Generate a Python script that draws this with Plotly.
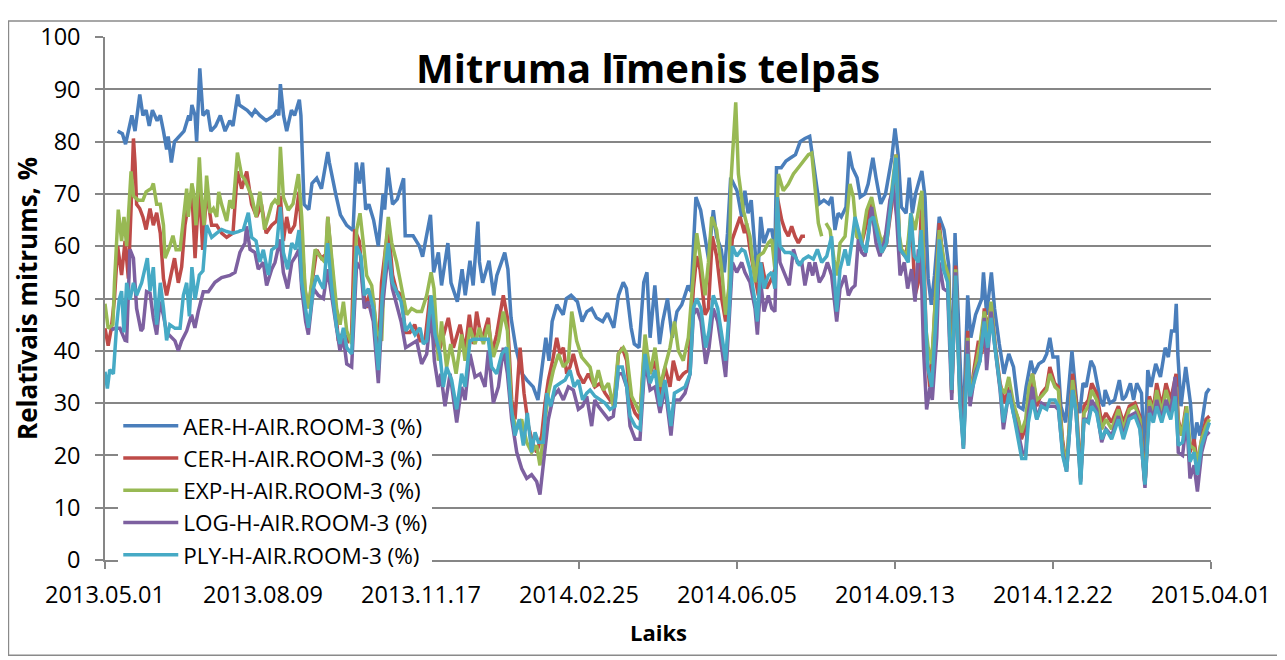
import pandas as pd
import plotly.graph_objects as go

START = "2013-05-01"
END = "2015-04-01"

tick_days = [0, 100, 200, 300, 400, 500, 600, 700]
tick_labels = ["2013.05.01", "2013.08.09", "2013.11.17", "2014.02.25",
               "2014.06.05", "2014.09.13", "2014.12.22", "2015.04.01"]

series_names = ["AER-H-AIR.ROOM-3 (%)", "CER-H-AIR.ROOM-3 (%)", "EXP-H-AIR.ROOM-3 (%)",
                "LOG-H-AIR.ROOM-3 (%)", "PLY-H-AIR.ROOM-3 (%)"]

# days since 2013-05-01
aer_day = [8, 11, 13, 15, 17, 19, 22, 24, 26, 28,
           30, 33, 35, 37, 39, 40, 42, 44, 47, 50,
           53, 54, 55, 57, 58, 60, 62, 65, 67, 70,
           73, 76, 79, 81, 84, 85, 90, 93, 95, 98,
           102, 107, 109, 110, 111, 113, 115, 118, 120, 123,
           124, 126, 129, 131, 134, 137, 141, 142, 146, 149,
           153, 157, 159, 161, 163, 165, 167, 170, 173, 176,
           177, 179, 182, 185, 189, 190, 195, 199, 201, 206,
           208, 211, 213, 217, 219, 223, 226, 228, 231, 233,
           236, 237, 239, 243, 246, 248, 251, 253, 255, 257,
           260, 264, 267, 271, 274, 276, 279, 281, 283, 286,
           290, 292, 295, 299, 302, 305, 308, 311, 315, 318,
           322, 325, 328, 330, 333, 335, 338, 341, 343, 345,
           348, 351, 353, 356, 359, 362, 365, 367, 369, 371,
           374, 377, 380, 382, 385, 387, 390, 392, 394, 396,
           400, 403, 405, 407, 409, 411, 413, 415, 417, 420,
           422, 424, 425, 428, 431, 434, 437, 440, 443, 446,
           448, 450, 452, 455, 458, 460, 462, 464, 466, 469,
           471, 473, 476, 478, 481, 483, 486, 488, 491, 494,
           498, 500, 502, 504, 507, 509, 511, 513, 517, 519,
           521, 523, 525, 528, 531, 534, 536, 538, 541, 543,
           546, 548, 551, 555, 556, 558, 561, 563, 566, 569,
           572, 575, 578, 581, 583, 586, 588, 591, 594, 596,
           598, 600, 603, 605, 608, 612, 615, 617, 619, 621,
           624, 626, 630, 632, 633, 636, 639, 642, 644, 646,
           649, 651, 653, 656, 658, 660, 662, 665, 668, 671,
           673, 675, 677, 678, 679, 681, 684, 687, 689, 691,
           693, 695, 697, 699]
aer_val = [82, 81.5, 79.5, 82, 85, 82, 89, 85, 86, 83,
           86, 84, 85, 82, 78.5, 81, 76, 80, 81, 82,
           85, 84, 87, 85, 80, 94, 85, 86, 82, 83,
           85, 82, 84, 83, 89, 87, 86, 85, 86, 85,
           84, 85, 86, 85, 91, 85, 82, 86, 85, 88,
           85, 68, 67, 72, 73, 71, 78, 76, 70, 66,
           64, 63, 76, 72, 76, 67, 68, 65, 60, 70,
           67, 75, 68, 69, 73, 62, 62, 60, 58, 66,
           55, 58.8, 52.5, 60.6, 53, 49.4, 55.6, 50.6, 57.2, 52.5,
           64.7, 57, 53, 57.2, 50.6, 54.4, 57, 58.8, 55.6, 46.3,
           40.6, 35.6, 34.4, 33.1, 30.6, 35.6, 42.5, 38.1, 45.6, 48.8,
           46.9, 50, 50.6, 49.4, 45.6, 47.5, 48.1, 46.3, 45.6, 47.2,
           44.4, 50.6, 53.1, 51.9, 44.4, 41.3, 40.6, 53.1, 55, 42.5,
           52.5, 41.3, 45.6, 50, 42.5, 47.5, 48.8, 50.6, 52.5, 51.3,
           69.4, 66.9, 60.6, 57.5, 66.9, 61.9, 59.4, 55, 62.5, 73.1,
           70.6, 65.6, 70.6, 66.3, 68.8, 60.6, 53.1, 65.6, 60.6, 63.1,
           63.1, 59.4, 75, 75, 76.3, 76.9, 77.5, 80, 80.6, 81,
           76.9, 71.9, 68.1, 68.8, 68.1, 69.4, 63.1, 66.3, 65.6, 67.5,
           78.1, 75, 73.1, 69.4, 70, 71.9, 76.9, 73.1, 68.1, 70,
           76.9, 82.5, 77.5, 67.5, 66.3, 73.1, 66.3, 70, 74.4, 69.4,
           53.8, 48.8, 54.4, 65.6, 63.1, 56.3, 33.1, 62.5, 38.1, 24,
           50.6, 42.5, 46.9, 50, 55, 46.9, 55, 48.1, 41.3, 35.6,
           39.4, 36.9, 29.4, 28.8, 33.1, 38.1, 35.6, 37.5, 38.1, 39.4,
           42.5, 38.8, 38.8, 29.4, 26.3, 40, 30, 28.1, 33.8, 33.1,
           38.1, 36.9, 30.6, 29.4, 32.5, 30, 30.6, 34.4, 30.6, 31.3,
           33.8, 30.6, 33.8, 31.9, 19.4, 36.3, 33.1, 37.5, 35, 40.6,
           38.8, 43.8, 43.8, 49, 39.4, 29.4, 36.9, 30, 21.9, 26.3,
           23.8, 27.5, 31.9, 32.8]

cer_day = [0, 2, 4, 6, 8, 10.5, 12.7, 14.8, 16.5, 18,
           19, 20, 22, 24, 26, 28.5, 30.6, 32.7, 35, 37,
           39, 42, 44, 46.4, 48.5, 50.6, 52.7, 55, 57, 59.7,
           61.8, 64.3, 67.5, 70.7, 73.8, 77, 81, 83.8, 86.5, 89.7,
           92.8, 96, 99, 102, 105.5, 108.6, 111, 112.9, 115, 117,
           120, 122.8, 124.5, 126.6, 128.7, 132, 134, 137, 140, 141,
           144.5, 147.7, 150.8, 154, 156, 158, 161, 163.5, 165.6, 167.7,
           169.8, 173, 175, 179.3, 182, 184.6, 187.8, 190, 193, 196,
           199.4, 202.5, 205.7, 209, 211, 214, 217.3, 220.5, 224.7, 227.9,
           230.6, 233.1, 235.2, 238.4, 242.6, 244.7, 247.9, 250, 252.1, 254.7,
           257.4, 259.5, 262.7, 265.2, 268, 271.1, 273.2, 276.4, 278.5, 280.6,
           283.3, 285.9, 288, 290.1, 292.2, 294.3, 296.4, 299.6, 302.8, 305.9,
           310, 313.3, 316.5, 319.6, 322.8, 325, 327.4, 330.2, 332.3, 335.5,
           338.6, 341.8, 345, 348, 351.3, 354.4, 357.6, 359.7, 362.9, 366,
           369.2, 372.4, 374.5, 376.6, 379.8, 381.9, 384.4, 387.1, 390.3, 392.8,
           395, 397, 399.8, 402, 404.7, 406, 408.2, 411.4, 413.5, 415.6,
           418.8, 422, 424, 425.5, 428.3, 430.4, 432.5, 434.6, 436.7, 438.8,
           441, 443, 444, 475.8, 479, 482, 485, 488.4, 491.6, 494.7,
           498, 500.6, 502, 503, 506.3, 508.4, 510.5, 512.7, 514.8, 517,
           518.6, 520, 522, 524.3, 526.4, 528, 530.6, 533.8, 535.9, 538.4,
           541, 543.3, 546, 547.5, 549.6, 552.8, 555, 556.5, 558.7, 560.8,
           563.3, 566.5, 569.6, 572, 575, 578, 580, 582.3, 584.4, 587,
           589.7, 592.8, 596, 598, 601, 603.4, 606, 608.6, 612.4, 614.6,
           617.5, 619.6, 622.4, 624.5, 627.6, 630.8, 633.5, 637.1, 641.4, 644.5,
           648.3, 651.9, 655, 658.2, 661, 663.5, 665.6, 668.8, 671.5, 674.5,
           677.9, 679.3, 681.4, 684.2, 686.7, 689.3, 691.4, 694.1, 696.8, 699]
cer_val = [44.3, 41, 44.3, 50, 60, 54.5, 61, 53.8, 67.2, 80.6,
           75.9, 68, 67.2, 65.6, 63.2, 67.2, 64, 66.4, 62.5, 53.8,
           50.6, 54.5, 57.7, 53, 56, 64, 68, 70.4, 57.7, 72,
           59.3, 70.4, 64, 64, 62.5, 61.7, 62.5, 74.3, 71, 74.3,
           68, 65.6, 68, 62.5, 64, 64.8, 69.6, 61, 65.6, 62.5,
           64, 70.4, 61, 51.4, 48.2, 54.5, 59.3, 57.7, 58.5, 65.6,
           53.8, 41.9, 43.5, 41.9, 42.7, 63.2, 60.9, 51.4, 48.2, 51.4,
           49.8, 39.5, 53, 64, 54.5, 51.4, 50.6, 43.5, 43.5, 45,
           41.9, 41.9, 50.6, 42.5, 39.4, 42.5, 46.3, 40.6, 45, 40,
           46.9, 41.3, 47.5, 41.9, 46.3, 39.4, 43.1, 46.9, 50.6, 46.3,
           30.6, 26.9, 40.6, 31.9, 25.6, 21.9, 20.6, 23.8, 30, 34.4,
           38.1, 42.5, 39.4, 40.6, 35.6, 36.9, 39.4, 35.6, 33.8, 35.6,
           33.1, 33.8, 31.9, 30.6, 31.3, 39.4, 40.6, 38.1, 30.6, 28.1,
           26.9, 41.9, 35.6, 38.1, 31.3, 36.9, 33.1, 38.1, 34.4, 35.6,
           36.3, 51.9, 58.1, 55.6, 46.9, 48.1, 61.9, 58.1, 50, 45.6,
           51.9, 61.3, 63.8, 65.6, 62.5, 64.4, 59.4, 54.4, 50.6, 56.9,
           51.9, 53.8, 55.6, 69.4, 65, 63.1, 61.9, 63.8, 61.9, 60.6,
           61.9, 61.9, None, 61.9, 60.6, 64.4, 68.8, 63.1, 58.8, 60.6,
           68.1, 77.5, 66.3, 59.4, 58.1, 60.6, 64.4, 50.6, 53.1, 69.4,
           55, 39.4, 33.1, 42.5, 55, 64.4, 56.9, 54.4, 31.9, 56.3,
           33.1, 21.9, 43.8, 30.6, 35.6, 41.9, 39.4, 48.1, 43.8, 48.8,
           41.3, 33.8, 30, 33.1, 29.4, 26.9, 23.1, 25, 30, 35.6,
           29.4, 31.9, 33.1, 36.9, 33.8, 33.1, 23.1, 17.5, 35.6, 30.6,
           15.6, 29.4, 30.6, 33.8, 31.9, 26.3, 28.1, 26.3, 29.4, 26.3,
           29.4, 30, 27.5, 14.4, 31.3, 28.8, 33.8, 29.4, 33.8, 30.6,
           35.6, 26.9, 23.8, 29.4, 20.6, 23.1, 18.1, 23.1, 26.9, 27.5]

exp_day = [0, 2, 5, 6, 8.4, 10.5, 12, 13.7, 16.5, 18,
           21, 24, 26, 29.5, 30.6, 32.7, 35, 37, 38, 41,
           43, 45, 47.5, 49.6, 51.7, 52.7, 55, 56, 57.6, 59.7,
           61, 62.7, 64.3, 66.5, 68.6, 70.7, 72, 73.8, 77, 79,
           81, 83.8, 86.5, 88.6, 90.7, 92.8, 95.6, 98, 101, 103.4,
           105.5, 107.6, 109.7, 111, 112.9, 116, 119, 122.4, 124.5, 126.6,
           128.7, 130.8, 133, 136, 139.3, 141, 143.5, 146.6, 148.8, 150.9,
           153, 156.1, 159.3, 161.4, 163.5, 165.6, 168.8, 172, 175.1, 177.2,
           179.3, 181.5, 184.6, 187.8, 191, 194, 197.3, 200.4, 203.6, 206.4,
           208.2, 211, 213, 216.2, 218.8, 222.2, 225.7, 227.9, 231, 234.2,
           237, 239.5, 242.6, 245.8, 249, 252.1, 254.7, 257.4, 260.6, 263.7,
           266.9, 270, 273.2, 275.3, 278.5, 280.6, 283.8, 287, 290.1, 293.3,
           295.4, 298.5, 301.7, 304.9, 307, 309.7, 312.2, 315.4, 318.6, 321.7,
           324.9, 328.1, 330.2, 333.3, 336.5, 338.6, 341.8, 345, 348.1, 351.3,
           354.4, 357.6, 360.4, 362.9, 366, 369.2, 371.7, 374.5, 377.2, 379.8,
           381.9, 384, 387.1, 390.3, 392.8, 395, 396.2, 397.7, 399.2, 400.9,
           403, 404, 406, 408.2, 411.4, 413.5, 416.7, 419.8, 422, 424,
           426.2, 429.3, 432.5, 435.7, 438.8, 442, 445.2, 447.3, 449.4, 451.5,
           453.6, 455, 456.3, 458.9, 461.4, 463.1, 465.2, 468.4, 471.5, 473.6,
           475.8, 478.9, 482.1, 485.2, 488.4, 491.6, 494.7, 497.9, 500.6, 502.8,
           504.2, 507.4, 510, 512.7, 515.2, 517, 519, 521, 523.2, 525.3,
           528, 531.2, 533.8, 535.9, 538.4, 541.1, 543.3, 546, 547.5, 550.6,
           553.8, 556.5, 559, 560.8, 563.3, 566.5, 569.6, 572, 574.9, 578,
           580, 582.7, 584.8, 587, 589.7, 592.8, 596, 598, 601.3, 603.4,
           606.1, 608.6, 612.4, 614.6, 617.5, 619.6, 622.4, 624.5, 627.6, 630.8,
           633.5, 637.1, 641.4, 644.5, 648.3, 651.9, 655, 658.2, 661, 663.5,
           665.6, 668.8, 671.5, 674.5, 677.9, 679.3, 681.4, 684.6, 686.7, 689.3,
           691.4, 694.1, 696.8, 699]
exp_val = [49, 44.3, 45, 53, 67, 61, 65.6, 60, 74.3, 69.6,
           68.8, 68.8, 70.4, 71.1, 72, 68, 68, 64, 57.7, 60,
           62, 59.3, 59.3, 64.8, 71, 65.6, 72, 70.4, 64, 77,
           69.6, 64, 73.5, 66.4, 67.2, 65.6, 70.4, 68, 64.8, 68.8,
           67.2, 77.9, 73.5, 72.7, 71, 69.6, 65.6, 70.4, 63.2, 65.6,
           68, 68.8, 68, 79, 69.4, 66.9, 68.1, 73.8, 65.6, 51.9,
           48.1, 53.1, 59.4, 58.1, 56.9, 65.6, 58.1, 48.1, 45, 49.4,
           43.8, 41.3, 63.1, 66.3, 60.6, 54.4, 52.5, 43.8, 41.9, 58.1,
           65.6, 60.6, 56.9, 51.9, 46.9, 48.1, 47.5, 47.5, 50.6, 55,
           51.9, 38.1, 45.6, 36.9, 41.3, 35.6, 43.1, 38.1, 44.4, 41.3,
           44.4, 41.3, 45, 38.8, 41.9, 47.5, 43.8, 28.1, 25, 26.9,
           22.5, 20.6, 21.9, 18.1, 26.3, 31.9, 36.3, 39.4, 36.9, 38.1,
           47.5, 41.9, 38.8, 37.5, 36.9, 33.1, 36.3, 32.5, 33.8, 29.4,
           39.4, 40.6, 39.4, 31.3, 29.4, 28.1, 43.1, 35.6, 40.6, 33.1,
           36.9, 40.6, 45.6, 40, 38.1, 42.5, 51.9, 62.5, 56.9, 50.6,
           56.9, 65.6, 63.1, 55.6, 46.9, 52.5, 72.5, 79.4, 87.5, 73.8,
           69.4, 66.9, 64.4, 61.9, 53.1, 58.1, 58.8, 60.6, 61.3, 55.6,
           73.8, 70.6, 71.9, 73.8, 75, 76.3, 77.5, 77.8, 71.3, 64.4,
           61.9, None, 64.4, 63.1, 57.5, 54.4, 60.6, 61.9, 71.9, 69.4,
           61.9, 60.6, 66.9, 69.4, 64.4, 60.6, 62.5, 71.3, 77.5, 61.9,
           59.4, 58.1, 66.3, 63.1, 67.5, 70.6, 45.6, 40.6, 37.5, 48.8,
           63.1, 56.9, 54.4, 31.9, 55.6, 30, 23.8, 42.5, 31.9, 36.3,
           41.3, 47.5, 43.1, 49.4, 41.3, 33.1, 31.9, 35, 30, 26.9,
           24.4, 26.9, 33.1, 35.6, 30.6, 31.3, 32.5, 35.6, 33.1, 32.5,
           21.9, 18.1, 34.4, 29.4, 15.6, 28.1, 29.4, 32.5, 30.6, 25,
           26.9, 25, 28.8, 25, 28.8, 29.4, 26.9, 14.4, 30.6, 28.1,
           32.5, 28.1, 32.5, 29.4, 33.1, 26.3, 23.8, 29.4, 21.9, 21.3,
           18.8, 23.1, 25.6, 26.9]

log_day = [4, 6.3, 9.5, 12.7, 13.7, 15.8, 18, 20, 22.8, 24,
           26.3, 28.5, 30.6, 32.7, 34.8, 36.9, 39, 42, 44.3, 46.4,
           48.5, 51.7, 54.8, 56.9, 59, 62.2, 65.4, 69.6, 73.8, 79,
           82.3, 85.4, 88.6, 89.6, 91.8, 94.9, 97, 100.2, 102.3, 105.5,
           107.6, 110.8, 112.9, 115.6, 118.2, 120.7, 122.8, 124.5, 127, 128.7,
           131.9, 135, 138.2, 140.9, 143.5, 146.6, 148.7, 150.9, 153, 156.1,
           159.3, 162, 164.1, 166.7, 169.8, 173, 175.5, 179.3, 181.9, 184.6,
           187.4, 190.3, 194.1, 197.3, 200.4, 203.6, 206.4, 208.5, 211, 212.5,
           215.2, 218.4, 222.6, 225.7, 227.9, 231, 234.2, 237.4, 240.5, 242.6,
           245.8, 249, 252.1, 254.7, 257.4, 260.6, 263.7, 266.9, 270, 273.2,
           275.3, 278.5, 280.6, 283.8, 287, 290.1, 293.3, 296.4, 299.6, 302.3,
           304.9, 308, 310, 312.2, 315.4, 318.6, 321.7, 324.9, 327.4, 330.2,
           332.3, 335.5, 338.6, 341.8, 345, 348.1, 351.3, 354.4, 358.2, 360.4,
           363.9, 367.1, 370.3, 372.4, 374.5, 377.2, 380.2, 382.3, 385, 387.8,
           390.3, 392.8, 395, 397.1, 399.8, 403, 405, 408.2, 411.4, 412.9,
           415, 417.1, 419.8, 422, 424, 425.5, 427.2, 430.4, 433.1, 435.7,
           438.2, 441, 443, 445.8, 447.9, 449.4, 452.1, 454.7, 457.2, 459.9,
           463.1, 465.2, 468.4, 470.5, 472.6, 474.7, 476.8, 478.9, 481, 483.1,
           485.2, 488, 490.5, 493.7, 496.8, 499, 501, 503.2, 505.9, 508,
           510.5, 512.7, 514.8, 516.5, 518, 520, 522.2, 523.6, 526.4, 528,
           530.6, 533.3, 535.9, 538.4, 541.1, 543.3, 546, 547.5, 550.6, 553.8,
           556.5, 558, 560.8, 563.3, 566.5, 568.6, 572.2, 574.9, 578, 580.6,
           582.7, 584.4, 587, 589.7, 592.8, 596, 598, 601.3, 603.4, 606.1,
           608.6, 612.4, 614.6, 617.5, 619.6, 622.4, 624.5, 627.6, 630.8, 633.5,
           637.1, 641.4, 644.5, 648.3, 651.9, 655, 658.2, 661, 663.5, 665.6,
           668.8, 671.5, 674.5, 677.3, 678.3, 679.3, 682, 684.6, 686.7, 689.3,
           691.4, 694.1, 696.8, 699]
log_val = [44, 44.3, 44.3, 42, 41.9, 59.4, 57.7, 48.1, 43.8, 44.3,
           51.3, 51, 46.3, 43.1, 49.4, 46.9, 43.5, 42.7, 41.9, 40,
           41.9, 43.8, 46.9, 44.4, 47.5, 51.3, 51.3, 53.1, 54, 54.4,
           55, 58.8, 60.6, 63.8, 59.4, 58.8, 55.6, 56.9, 52.5, 55.6,
           56.9, 61.3, 55, 51.9, 56.9, 58.1, 59.4, 51.9, 45.6, 43.1,
           51.9, 50.6, 50, 55.6, 50, 43.8, 40, 42.5, 37.5, 36.9,
           56.9, 55.6, 48.1, 49.4, 45.6, 33.8, 48.1, 58.8, 51.9, 48.8,
           45.6, 40.6, 41.3, 41.9, 37.5, 39.4, 47.5, 38, 33.1, 35.6,
           29.4, 35.6, 26.3, 33.1, 30.6, 39.4, 35, 35.6, 33.1, 40,
           30, 33.1, 40.6, 35.6, 26.9, 20.6, 17.5, 15.6, 16.3, 15,
           12.5, 20.6, 26.9, 31.3, 32.5, 30.6, 33.1, 32.5, 28.8, 29.4,
           31.3, 25.6, 30.6, 29.4, 28.1, 26.9, 27.5, 35.6, 35.6, 33.1,
           25.6, 23.1, 23.1, 38.1, 32.5, 33.1, 28.1, 33.1, 23.8, 30.6,
           30.6, 31.9, 35.6, 46.9, 48.1, 45.6, 37.5, 40.6, 48.1, 45.6,
           40.6, 35, 45.6, 56.9, 55, 56.9, 55, 53.1, 48.1, 43.1,
           53.1, 47.5, 50.6, 48.1, 47.5, 64.4, 56.9, 54.4, 52.5, 59.4,
           56.9, 56.9, 52.5, 56.9, 54.4, 56.9, 53.1, 54.4, 56.9, 54.4,
           45.6, 51.9, 54.4, 50.6, 51.9, 52.5, 61.3, 58.8, 58.1, 61.9,
           67.5, 60.6, 58.1, 61.3, 68.8, 71.3, 65.6, 54.4, 56.9, 51.9,
           55.6, 49.4, 59.4, 56.9, 40.6, 28.8, 33.1, 30.6, 42.5, 56.9,
           51.9, 51.3, 30.6, 55, 31.9, 21.3, 41.9, 29.4, 35.6, 38.1,
           46.3, 36.3, 47.5, 40.6, 32.5, 25, 32.5, 28.1, 24.4, 20.6,
           20.6, 28.1, 33.1, 26.9, 30, 29.4, 29.4, 29.4, 28.8, 20.6,
           16.9, 32.5, 28.1, 15, 26.9, 26.9, 30.6, 28.8, 22.5, 25,
           23.8, 27.5, 23.8, 27.5, 28.1, 25.6, 13.8, 29.4, 26.9, 30.6,
           26.9, 30.6, 28.1, 35, 28.8, 20.6, 20, 26.9, 15.6, 18.1,
           13.1, 20.6, 23.8, 24.5]

ply_day = [0, 1.5, 3, 5.3, 7.4, 9, 10.5, 12, 13.7, 15.8,
           18, 20, 23.2, 25.3, 26.8, 28.5, 30.6, 32.7, 35, 37,
           39, 41, 44.3, 47.5, 49.6, 51.7, 53.4, 55, 57, 59.7,
           62, 64.3, 67.5, 70.7, 73.8, 77, 81, 84.4, 87.6, 90.7,
           92.8, 95.6, 98, 100.2, 103.4, 105.5, 108.6, 111, 112.9, 115.6,
           118.2, 120.7, 122.8, 124.5, 127, 128.7, 131.9, 134, 136, 138.2,
           140.9, 143.5, 146.6, 148.7, 150.9, 153, 156.1, 159.3, 162, 164.1,
           166.7, 169.8, 173, 175.5, 179.3, 181.9, 184.6, 187.4, 190.3, 193,
           196.2, 199.4, 201.5, 203.6, 206.4, 208.9, 212, 214.1, 216.2, 219.4,
           222.6, 225.7, 227.9, 231, 233.1, 237.4, 242.6, 244.7, 247.9, 251.1,
           254.2, 256.8, 259.5, 262.2, 264.8, 267.3, 270, 272.2, 274.3, 277.4,
           279.6, 282, 284.8, 288, 291.2, 294.3, 296.9, 299.6, 302.3, 304.9,
           307, 310.1, 313.3, 316.5, 319.6, 322.8, 324.9, 327.4, 330.2, 332.3,
           335.5, 338.6, 341.8, 345, 348.1, 351.3, 354.4, 358.2, 360.4, 363.9,
           367.1, 370.3, 372.4, 374.5, 377.2, 380.2, 382.3, 385, 387.8, 390.3,
           392.8, 395, 397.1, 399.8, 403, 405, 408.2, 411.4, 412.9, 415,
           417.1, 419.8, 422, 424, 425.5, 427.2, 430.4, 433.6, 436.7, 439.5,
           442, 445.2, 448.3, 450.9, 453.6, 456.8, 459.9, 463.1, 465.2, 468.4,
           470.5, 472.6, 474.7, 476.8, 478.9, 481.7, 484.2, 486.3, 488.8, 491.6,
           494.7, 497.9, 500.6, 502, 503.2, 506.3, 508.4, 510, 512.2, 514.8,
           516.5, 518.6, 520.7, 523.2, 526.4, 528, 530.6, 533.3, 535.9, 538.4,
           541.1, 543.3, 546, 547.5, 550.6, 553.8, 556.5, 558.7, 560.8, 563.3,
           566.5, 568.6, 572.2, 574.9, 578, 580.2, 582.7, 584.4, 587, 589.7,
           592.8, 596, 598, 601.3, 603.4, 606.1, 608.6, 612.4, 614.6, 617.5,
           619.6, 622.4, 624.5, 627.6, 630.8, 633.5, 637.1, 641.4, 644.5, 648.3,
           651.9, 655, 658.2, 661, 663.5, 665.6, 668.8, 671.5, 674.5, 677.3,
           679.3, 682, 684.6, 686.7, 689.3, 691.4, 694.1, 696.8, 699]
ply_val = [36, 32.8, 36.4, 35.6, 45, 49.8, 51.4, 43.5, 53, 49.8,
           53, 50.6, 53, 56, 57.7, 51.4, 56, 45, 53, 48.2,
           42, 45, 44.3, 44.3, 50.6, 53, 46.6, 56, 49.8, 54.5,
           55.3, 64, 61.7, 62.5, 63.2, 62.8, 62.5, 62.8, 63.2, 66.4,
           61.7, 61, 57, 59.3, 54.5, 59.3, 60, 67.5, 58.8, 55.6,
           60.6, 59.4, 63.1, 53.1, 48.1, 44.4, 51.9, 54.4, 53.1, 51.9,
           60.6, 51.9, 44.4, 41.3, 44.4, 40.6, 39.4, 60, 58.1, 50.6,
           51.9, 48.1, 36.3, 50.6, 60.6, 53.1, 51.3, 49.4, 43.8, 45,
           43.1, 44.4, 41.3, 41.9, 50.6, 43.1, 39.4, 33.1, 36.9, 34.4,
           28.8, 35.6, 33.1, 41.9, 42.2, 42.2, 42.2, 36.9, 35.6, 39.4,
           40.6, 30, 23.8, 26.9, 21.9, 28.1, 20.6, 24.4, 22.5, 22.5,
           31.9, 29.4, 33.1, 33.8, 34.4, 36.3, 33.1, 34.4, 30.6, 31.9,
           32.5, 31.3, 30.6, 30, 28.8, 29.4, 36.9, 36.9, 33.1, 27.5,
           25.6, 25, 39.4, 33.8, 36.3, 29.4, 34.4, 25.6, 31.9, 32.5,
           33.1, 35.6, 48.1, 50, 48.1, 40.6, 43.8, 50.6, 48.1, 43.1,
           38.1, 47.5, 60, 58.1, 59.4, 59, 55.6, 49.4, 45.6, 56.9,
           51.9, 54.4, 55, 51.9, 69.4, 60, 58.8, 58.8, 58.1, 56.3,
           57.5, 58.1, 57.5, 59.4, 56.9, 58.1, 61.9, 47.5, 55.6, 59.4,
           56.3, 60.6, 65.6, 63.1, 60.6, 58.8, 65, 65.6, 62.5, 58.8,
           60.6, 70, 76.9, 65.6, 59.4, 58.1, 56.9, 66.3, 58.1, 56.9,
           63.1, 51.9, 36.9, 33.1, 48.1, 61.3, 55.6, 53.1, 32.5, 54.4,
           30, 21.3, 39.4, 31.3, 34.4, 38.1, 45.6, 40.6, 46.3, 40.6,
           33.1, 26.3, 31.9, 28.1, 23.1, 19.4, 19.4, 26.3, 30.6, 26.9,
           29.4, 28.8, 30.6, 30.6, 29.4, 20, 16.9, 32.5, 28.1, 14.4,
           26.9, 26.3, 29.4, 28.1, 23.1, 25, 23.1, 26.9, 23.1, 26.9,
           27.5, 25, 14.4, 28.1, 26.3, 29.4, 26.3, 29.4, 26.9, 31.3,
           21.9, 22.5, 28.1, 18.8, 20.6, 16.3, 21.9, 24.4, 26.3]

colors = ["#4A7EBB", "#BE4B48", "#98B954", "#7D60A0", "#46AAC5"]

start = pd.Timestamp(START)


def to_dates(days):
    return [start + pd.Timedelta(days=d) for d in days]


all_days = [aer_day, cer_day, exp_day, log_day, ply_day]
all_vals = [aer_val, cer_val, exp_val, log_val, ply_val]

FONT = "Open Sans"
GRID = "#868686"

fig = go.Figure()
for name, d, v, c in zip(series_names, all_days, all_vals, colors):
    fig.add_trace(go.Scatter(x=to_dates(d), y=v, mode="lines", name=name,
                             line=dict(color=c, width=3.5), connectgaps=False,
                             legendgroup=name))

# invisible trace to activate the overlay axis for crossing y ticks
fig.add_trace(go.Scatter(x=[start], y=[None], yaxis="y2", showlegend=False,
                         hoverinfo="skip", mode="lines"))

# the page body adds an 8px offset; figure is sized so the plot area lands
# where the reference has it
fig.update_layout(
    width=1277, height=652,
    margin=dict(l=97, r=74, t=19, b=100),
    paper_bgcolor="white", plot_bgcolor="white",
    font=dict(family=FONT, color="black"),
    showlegend=True,
    legend=dict(x=0.012, y=0.297, xanchor="left", yanchor="top",
                bgcolor="white", borderwidth=0,
                font=dict(family=FONT, size=22.5, color="black"),
                tracegroupgap=0, itemwidth=55),
    xaxis=dict(type="date", range=[START, END],
               tickvals=to_dates(tick_days), ticktext=tick_labels,
               showgrid=False, zeroline=False,
               showline=True, linecolor=GRID, linewidth=1.5,
               ticks="outside", ticklen=7, tickcolor=GRID, tickwidth=1.5,
               ticklabelstandoff=6,
               tickfont=dict(family=FONT, size=23.5, color="black")),
    yaxis=dict(range=[0, 100], dtick=10, tick0=0,
               showgrid=True, gridcolor=GRID, gridwidth=1.5, zeroline=False,
               showline=True, linecolor=GRID, linewidth=1.5,
               ticks="outside", ticklen=8, tickcolor=GRID, tickwidth=1.5,
               ticklabelstandoff=10,
               tickfont=dict(family=FONT, size=23.5, color="black")),
    yaxis2=dict(range=[0, 100], dtick=10, tick0=0, overlaying="y", side="left",
                showgrid=False, zeroline=False, showline=False,
                ticks="inside", ticklen=8, tickcolor=GRID, tickwidth=1.5,
                showticklabels=False),
    shapes=[dict(type="rect", xref="paper", yref="paper",
                 x0=-0.0873, x1=1.0615, y0=-0.182, y1=1.0306,
                 line=dict(color="#8a8a8a", width=1.5), layer="below")],
    annotations=[
        dict(text="<b>Mitruma līmenis telpās</b>", xref="paper", yref="paper",
             x=0.491, y=0.942, xanchor="center", yanchor="middle", showarrow=False,
             font=dict(family=FONT, size=40, color="black")),
        dict(text="<b>Relatīvais mitrums, %</b>", xref="paper", yref="paper",
             x=-0.071, y=0.5, xanchor="center", yanchor="middle", showarrow=False,
             textangle=-90, font=dict(family=FONT, size=26, color="black")),
        dict(text="<b>Laiks</b>", xref="paper", yref="paper",
             x=0.5, y=-0.137, xanchor="center", yanchor="middle", showarrow=False,
             font=dict(family=FONT, size=22, color="black")),
    ],
)

fig.write_html("out.html")
